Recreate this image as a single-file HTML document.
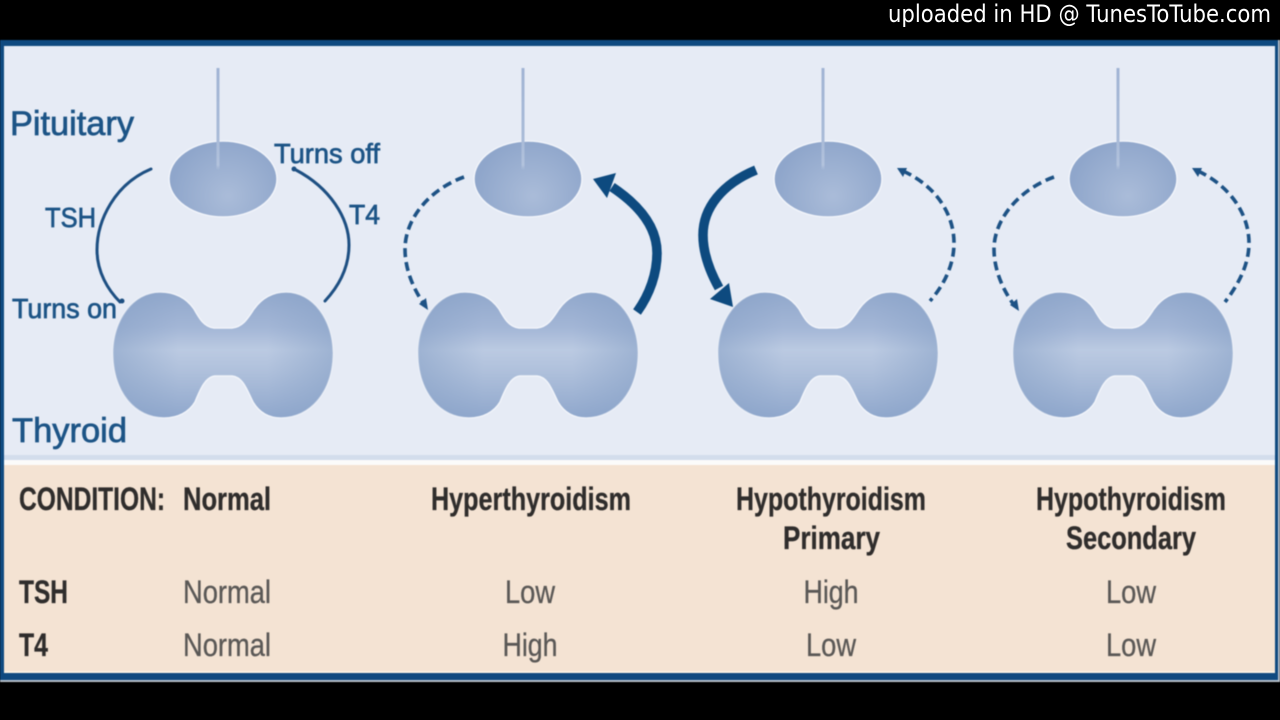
<!DOCTYPE html>
<html>
<head>
<meta charset="utf-8">
<style>
html,body{margin:0;padding:0;background:#000;width:1280px;height:720px;overflow:hidden}
svg{display:block}
text{font-family:"Liberation Sans Narrow","Liberation Sans",sans-serif}
.lab{fill:#1c5486;stroke:#1c5486;stroke-width:.7}
.lab text{font-family:"Liberation Sans",sans-serif}
.h{fill:#2f2d2c;font-weight:bold;font-size:32px;stroke:#2f2d2c;stroke-width:.3}
.v{fill:#5a5856;font-size:32px;text-anchor:middle;stroke:#5a5856;stroke-width:.3}
.soft{filter:blur(.55px)}
</style>
</head>
<body>
<svg width="1280" height="720" viewBox="0 0 1280 720" xmlns="http://www.w3.org/2000/svg">
<defs>
<linearGradient id="thv" gradientUnits="userSpaceOnUse" x1="0" y1="292" x2="0" y2="418">
<stop offset="0" stop-color="#91a8cc"/><stop offset=".28" stop-color="#a3b6d6"/><stop offset=".46" stop-color="#bbcae2"/><stop offset=".62" stop-color="#b0c1dc"/><stop offset="1" stop-color="#8fa7cc"/>
</linearGradient>
<linearGradient id="thh" gradientUnits="userSpaceOnUse" x1="113" y1="0" x2="333" y2="0">
<stop offset="0" stop-color="#86a0c6" stop-opacity=".55"/><stop offset=".3" stop-color="#86a0c6" stop-opacity="0"/><stop offset=".7" stop-color="#86a0c6" stop-opacity="0"/><stop offset="1" stop-color="#86a0c6" stop-opacity=".55"/>
</linearGradient>
<radialGradient id="pi" gradientUnits="userSpaceOnUse" cx="228" cy="196" r="58">
<stop offset="0" stop-color="#aabcd9"/><stop offset="1" stop-color="#8fa6cb"/>
</radialGradient>
<linearGradient id="st" gradientUnits="userSpaceOnUse" x1="0" y1="68" x2="0" y2="170">
<stop offset="0" stop-color="#a1b4d4"/><stop offset=".7" stop-color="#a9bbd8"/><stop offset=".95" stop-color="#b3c3dd"/><stop offset="1" stop-color="#b3c3dd" stop-opacity="0"/>
</linearGradient>
<path id="tp" d="M160 292C176 292 187 299 194 309C199 318 204 327 214 328L232 328C243 327 248 318 254 309C262 298 272 292 286 292C313 292 333 320 333 353C333 392 310 418 281 418C268 418 259 412 253 402C247 390 243 377 232 376L215 376C205 377 200 390 195 402C189 412 178 418 164 418C135 418 113 392 113 353C113 320 133 292 160 292Z"/>
<g id="organ">
<ellipse cx="223" cy="179" rx="54" ry="38" fill="url(#pi)" stroke="#f1f4fa" stroke-width="1.5"/>
<rect x="216.5" y="68" width="3" height="102" fill="url(#st)"/>
<use href="#tp" fill="url(#thv)" stroke="#f1f4fa" stroke-width="1.5"/>
<use href="#tp" fill="url(#thh)"/>
</g>
</defs>

<rect width="1280" height="720" fill="#000"/>
<text x="888" y="22" fill="#fff" font-size="24" textLength="383" lengthAdjust="spacingAndGlyphs" style="font-family:'DejaVu Sans',sans-serif">uploaded in HD @ TunesToTube.com</text>

<g class="soft">
<rect x="0" y="40" width="1280" height="642" fill="#b5bfc9"/>
<rect x="0" y="40" width="1278" height="640" fill="#0f4a80"/>
<rect x="4" y="46" width="1271" height="409" fill="#e6ebf5"/>
<rect x="4" y="455" width="1271" height="5" fill="#d3ddec"/>
<rect x="4" y="460" width="1271" height="5" fill="#fbfbfa"/>
<rect x="4" y="465" width="1271" height="206" fill="#f4e3d3"/>
<rect x="4" y="671" width="1271" height="2" fill="#f8f0e2"/>

<use href="#organ"/>
<use href="#organ" x="305"/>
<use href="#organ" x="605"/>
<use href="#organ" x="900"/>

<!-- Column 1 connectors -->
<g fill="none" stroke="#1d4f82" stroke-width="3" stroke-linecap="round">
<path d="M151 169C115 184 97 220 97 250C97 272 108 290 120 302"/>
<path d="M296 170C330 188 349 218 349 245C349 268 338 287 325 301"/>
</g>
<circle cx="122" cy="301" r="2.5" fill="#1d4f82"/>
<circle cx="294" cy="169" r="2.5" fill="#1d4f82"/>

<!-- Dashed connectors -->
<g fill="none" stroke="#1d5285" stroke-width="3.6" stroke-dasharray="9 5">
<path d="M464 177C428 190 405 220 405 249C405 270 414 290 424 304"/>
<path d="M903 171C936 186 954 214 954 243C954 265 944 285 930 301"/>
<path d="M1054 177C1018 190 994 220 994 249C994 270 1003 290 1014 305"/>
<path d="M1198 171C1230 186 1249 214 1249 243C1249 265 1238 285 1225 302"/>
</g>
<g fill="#1d5285">
<path d="M428 310L419 304L426 298Z"/>
<path d="M897 168L907 168L903 177Z"/>
<path d="M1019 311L1010 305L1017 299Z"/>
<path d="M1192 168L1202 168L1198 177Z"/>
</g>

<!-- Thick connectors -->
<g fill="none" stroke="#0d4a7f" stroke-width="9.5">
<path d="M637 312C650 294 657 273 657 253C657 229 642 207 612 187"/>
<path d="M756 170C722 184 703 208 703 235C703 252 709 270 719 288"/>
</g>
<path d="M593 179L616 173L607 198Z" fill="#0d4a7f"/>
<path d="M733 307L710 299L729 283Z" fill="#0d4a7f"/>

<!-- Labels -->
<g class="lab">
<text x="10" y="135" font-size="34" textLength="124" lengthAdjust="spacingAndGlyphs">Pituitary</text>
<text x="12" y="442" font-size="34" textLength="115" lengthAdjust="spacingAndGlyphs">Thyroid</text>
<text x="274" y="163" font-size="28" textLength="106" lengthAdjust="spacingAndGlyphs">Turns off</text>
<text x="45" y="227" font-size="28" textLength="51" lengthAdjust="spacingAndGlyphs">TSH</text>
<text x="349" y="224" font-size="28" textLength="31" lengthAdjust="spacingAndGlyphs">T4</text>
<text x="12" y="318" font-size="28" textLength="105" lengthAdjust="spacingAndGlyphs">Turns on</text>
</g>

<!-- Table -->
<text class="h" x="19" y="510" textLength="146" lengthAdjust="spacingAndGlyphs">CONDITION:</text>
<text class="h" x="183" y="510" textLength="88" lengthAdjust="spacingAndGlyphs">Normal</text>
<text class="h" x="431" y="510" textLength="200" lengthAdjust="spacingAndGlyphs">Hyperthyroidism</text>
<text class="h" x="736" y="510" textLength="190" lengthAdjust="spacingAndGlyphs">Hypothyroidism</text>
<text class="h" x="783" y="549" textLength="97" lengthAdjust="spacingAndGlyphs">Primary</text>
<text class="h" x="1036" y="510" textLength="190" lengthAdjust="spacingAndGlyphs">Hypothyroidism</text>
<text class="h" x="1066" y="549" textLength="130" lengthAdjust="spacingAndGlyphs">Secondary</text>

<text class="h" x="19" y="603" textLength="49" lengthAdjust="spacingAndGlyphs">TSH</text>
<text class="h" x="19" y="656" textLength="29" lengthAdjust="spacingAndGlyphs">T4</text>

<text class="v" x="227" y="603" textLength="88" lengthAdjust="spacingAndGlyphs">Normal</text>
<text class="v" x="530" y="603" textLength="50" lengthAdjust="spacingAndGlyphs">Low</text>
<text class="v" x="831" y="603" textLength="55" lengthAdjust="spacingAndGlyphs">High</text>
<text class="v" x="1131" y="603" textLength="50" lengthAdjust="spacingAndGlyphs">Low</text>
<text class="v" x="227" y="656" textLength="88" lengthAdjust="spacingAndGlyphs">Normal</text>
<text class="v" x="530" y="656" textLength="55" lengthAdjust="spacingAndGlyphs">High</text>
<text class="v" x="831" y="656" textLength="50" lengthAdjust="spacingAndGlyphs">Low</text>
<text class="v" x="1131" y="656" textLength="50" lengthAdjust="spacingAndGlyphs">Low</text>
</g>
</svg>
</body>
</html>
